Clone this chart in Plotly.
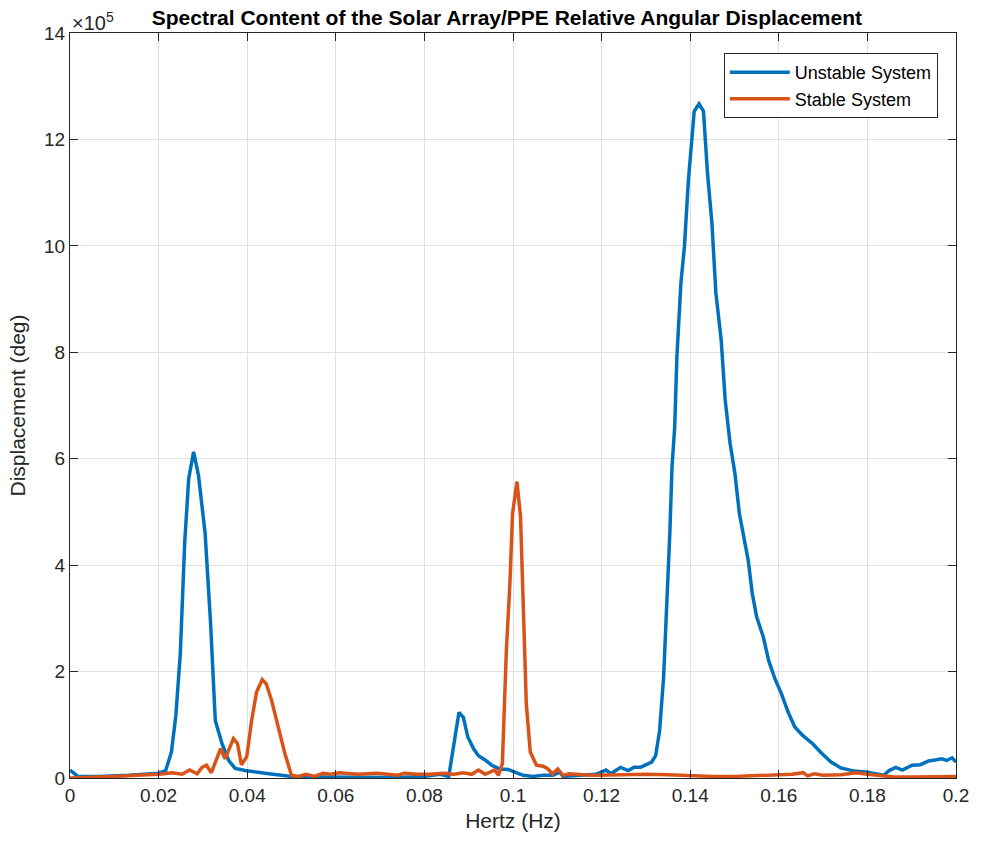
import plotly.graph_objects as go

# Frequency (Hz) and displacement (units of 1e5 deg) for each system
unstable_hz = [
    0.0, 0.00175, 0.0066, 0.0133, 0.0201, 0.0216, 0.0229, 0.0239, 0.0249, 0.0259,
    0.0268, 0.0279, 0.0290, 0.0305, 0.0317, 0.0328, 0.0343, 0.0358, 0.0373, 0.0395,
    0.0440, 0.0499, 0.0559, 0.0649, 0.0739, 0.0799, 0.0835, 0.0855, 0.0860, 0.0870,
    0.0878, 0.0888, 0.0898, 0.0911, 0.0922, 0.0937, 0.0952, 0.0970, 0.0989, 0.1004,
    0.1023, 0.1045, 0.1068, 0.1090, 0.1105, 0.1113, 0.1142, 0.1187, 0.1210, 0.1221,
    0.1232, 0.1243, 0.1260, 0.1273, 0.1288, 0.1303, 0.1313, 0.1322, 0.1331, 0.1340,
    0.1348, 0.1354, 0.1359, 0.1365, 0.1370, 0.1379, 0.1387, 0.1396, 0.1409, 0.1420,
    0.1430, 0.1439, 0.1449, 0.1458, 0.1470, 0.1479, 0.1490, 0.1501, 0.1511, 0.1520,
    0.1531, 0.1540, 0.1550, 0.1565, 0.1577, 0.1591, 0.1606, 0.1621, 0.1636, 0.1654,
    0.1677, 0.1696, 0.1718, 0.1740, 0.1770, 0.1800, 0.1822, 0.1837, 0.1849, 0.1864,
    0.1879, 0.1901, 0.1920, 0.1938, 0.1953, 0.1968, 0.1979, 0.1991, 0.2000,
]
unstable_disp = [
    0.15, 0.03, 0.03, 0.05, 0.09, 0.14, 0.49, 1.18, 2.34, 4.44,
    5.63, 6.13, 5.69, 4.60, 2.96, 1.08, 0.65, 0.33, 0.18, 0.14,
    0.09, 0.03, 0.02, 0.02, 0.01, 0.03, 0.07, 0.03, 0.27, 0.83,
    1.23, 1.14, 0.77, 0.55, 0.42, 0.34, 0.24, 0.17, 0.16, 0.11,
    0.05, 0.03, 0.05, 0.05, 0.11, 0.03, 0.05, 0.07, 0.15, 0.08,
    0.14, 0.20, 0.14, 0.20, 0.20, 0.27, 0.30, 0.42, 0.89, 1.90,
    3.34, 4.60, 5.85, 6.60, 7.92, 9.30, 9.99, 11.24, 12.53, 12.67,
    12.53, 11.37, 10.43, 9.11, 8.23, 7.10, 6.29, 5.72, 4.97, 4.53,
    4.09, 3.47, 3.03, 2.65, 2.21, 1.87, 1.58, 1.24, 0.96, 0.80,
    0.64, 0.47, 0.30, 0.19, 0.13, 0.11, 0.08, 0.05, 0.14, 0.20,
    0.15, 0.24, 0.25, 0.32, 0.34, 0.36, 0.33, 0.38, 0.30,
]

stable_hz = [
    0.0, 0.005, 0.010, 0.015, 0.0201, 0.0231, 0.0253, 0.0270, 0.0287, 0.0298,
    0.0308, 0.0319, 0.0329, 0.0340, 0.0350, 0.0369, 0.0378, 0.0387, 0.0399, 0.0410,
    0.0421, 0.0434, 0.0443, 0.0455, 0.0470, 0.0485, 0.0500, 0.0515, 0.0533, 0.0552,
    0.0571, 0.0589, 0.0608, 0.0627, 0.0649, 0.0694, 0.0739, 0.0754, 0.0784, 0.0813,
    0.0844, 0.0866, 0.0888, 0.0907, 0.0922, 0.0937, 0.0959, 0.0967, 0.0976, 0.0985,
    0.0993, 0.0999, 0.1009, 0.1017, 0.1023, 0.1030, 0.1039, 0.1053, 0.1068, 0.1079,
    0.1089, 0.1101, 0.1113, 0.1127, 0.1157, 0.1187, 0.1250, 0.1300, 0.1350, 0.1400,
    0.1450, 0.1500, 0.1550, 0.1600, 0.1630, 0.1655, 0.1665, 0.1680, 0.1700, 0.1740,
    0.1775, 0.1800, 0.1830, 0.1860, 0.1900, 0.1950, 0.2000,
]
stable_disp = [
    0.00, 0.01, 0.03, 0.05, 0.07, 0.10, 0.07, 0.15, 0.08, 0.20,
    0.24, 0.10, 0.33, 0.55, 0.36, 0.74, 0.65, 0.25, 0.40, 1.08,
    1.61, 1.85, 1.77, 1.46, 0.96, 0.46, 0.05, 0.03, 0.07, 0.03,
    0.09, 0.07, 0.10, 0.08, 0.07, 0.09, 0.05, 0.09, 0.07, 0.07,
    0.09, 0.07, 0.10, 0.07, 0.15, 0.07, 0.15, 0.05, 0.27, 2.40,
    3.65, 4.97, 5.57, 4.91, 3.34, 1.40, 0.49, 0.24, 0.22, 0.17,
    0.08, 0.17, 0.05, 0.08, 0.06, 0.05, 0.06, 0.07, 0.06, 0.04,
    0.03, 0.03, 0.04, 0.05, 0.07, 0.10, 0.04, 0.08, 0.05, 0.06,
    0.10, 0.07, 0.05, 0.02, 0.02, 0.02, 0.03,
]

x_ticks = [0, 0.02, 0.04, 0.06, 0.08, 0.1, 0.12, 0.14, 0.16, 0.18, 0.2]
x_tick_labels = ["0", "0.02", "0.04", "0.06", "0.08", "0.1", "0.12", "0.14", "0.16", "0.18", "0.2"]
y_ticks = [0, 2, 4, 6, 8, 10, 12, 14]

font_family = "Liberation Sans, Arial, Helvetica, sans-serif"
axis_color = "#262626"
grid_color = "#e0e0e0"

fig = go.Figure()
fig.add_trace(go.Scatter(
    x=unstable_hz, y=unstable_disp, mode="lines", name="Unstable System",
    line=dict(color="#0072BD", width=3.5),
))
fig.add_trace(go.Scatter(
    x=stable_hz, y=stable_disp, mode="lines", name="Stable System",
    line=dict(color="#D95319", width=3.5),
))

fig.update_layout(
    width=981, height=842,
    margin=dict(l=70, r=18, t=33, b=64),
    paper_bgcolor="white", plot_bgcolor="white",
    font=dict(family=font_family, size=19, color=axis_color),
    title=dict(
        text="<b>Spectral Content of the Solar Array/PPE Relative Angular Displacement</b>",
        x=0.5167, xanchor="center", y=0.979, yanchor="middle",
        font=dict(size=21, color="black"),
    ),
    showlegend=True,
    legend=dict(
        x=0.9795, xanchor="right", y=0.973, yanchor="top",
        bordercolor="#262626", borderwidth=1, bgcolor="white",
        font=dict(size=18, color="black"),
        itemwidth=60, tracegroupgap=0,
    ),
)

fig.update_xaxes(
    range=[0, 0.2], tickvals=x_ticks, ticktext=x_tick_labels,
    ticks="inside", ticklen=8, tickcolor=axis_color,
    showline=True, linecolor=axis_color, linewidth=1, mirror="ticks",
    showgrid=True, gridcolor=grid_color, gridwidth=1, zeroline=False,
    title=dict(text="Hertz (Hz)", font=dict(size=21), standoff=8),
    tickfont=dict(size=19),
)
fig.update_yaxes(
    range=[0, 14], tickvals=y_ticks,
    ticks="inside", ticklen=8, tickcolor=axis_color,
    showline=True, linecolor=axis_color, linewidth=1, mirror="ticks",
    showgrid=True, gridcolor=grid_color, gridwidth=1, zeroline=False,
    title=dict(text="Displacement (deg)", font=dict(size=21), standoff=12),
    tickfont=dict(size=19),
)

# Axis scale factor shown above the y axis
fig.add_annotation(
    text="\u00d710<sup>5</sup>", xref="paper", yref="paper",
    x=0, y=1.0, xanchor="left", yanchor="bottom", showarrow=False,
    font=dict(size=20, color=axis_color), yshift=-3,
)

fig.write_html("out.html")
